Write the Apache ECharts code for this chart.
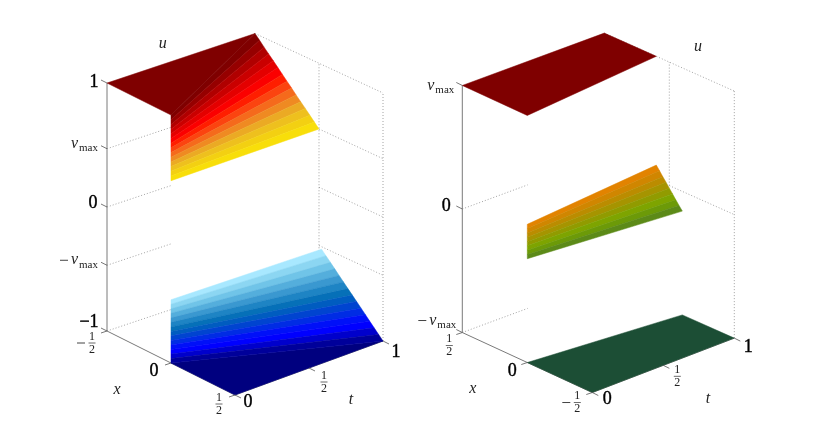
<!DOCTYPE html>
<html>
<head>
<meta charset="utf-8">
<style>html,body{margin:0;background:#fff}#chart{width:824px;height:441px}</style>
<script src="https://cdn.jsdelivr.net/npm/echarts@6/dist/echarts.min.js"></script>
</head>
<body>
<div id="chart"></div>
<script>
var vmax = 0.47;

// left plot, u between -1 and 1
var uTicksL = [1, vmax, 0, -vmax, -1];
var uLabelsL = ['1', 'vmax', '0', '\u2212vmax', '\u22121'];
var xTicksL = [-0.5, 0, 0.5];
var xLabelsL = ['\u22121/2', '0', '1/2'];
var upperLevels = [1, 0.962, 0.924, 0.886, 0.849, 0.811, 0.773, 0.735, 0.697, 0.659, 0.621, 0.584, 0.546, 0.508, 0.47];
var upperEdgeX = [-0.5, -0.464, -0.429, -0.393, -0.357, -0.321, -0.286, -0.25, -0.214, -0.179, -0.143, -0.107, -0.071, -0.036, 0];
var upperColors = ['#7f0000', '#960000', '#b00000', '#ca0000', '#e40000', '#fb0000', '#ff1e00', '#fb4410', '#f56a1c', '#ef8a22', '#ebaa24', '#eec01e', '#f3d012', '#f8de0a'];
var lowerLevels = [-0.49, -0.526, -0.563, -0.599, -0.636, -0.672, -0.709, -0.745, -0.781, -0.818, -0.854, -0.891, -0.927, -0.964, -1];
var lowerEdgeX = [0.02, 0.054, 0.089, 0.123, 0.157, 0.191, 0.226, 0.26, 0.294, 0.329, 0.363, 0.397, 0.431, 0.466, 0.5];
var lowerColors = ['#a8e8ff', '#8cd6f2', '#70c4e8', '#54aedc', '#3a98d0', '#1e84c4', '#0670b8', '#005cc0', '#0044d0', '#002ce4', '#0010f8', '#0000ff', '#0000cc', '#00009a'];

// right plot, u between -vmax and vmax
var uTicksR = [vmax, 0, -vmax];
var uLabelsR = ['vmax', '0', '\u2212vmax'];
var xTicksR = [0.5, 0, -0.5];
var xLabelsR = ['1/2', '0', '\u22121/2'];
var middleLevels = [0.056, 0.04, 0.023, 0.007, -0.01, -0.026, -0.043, -0.059, -0.075];
var middleEdgeX = [0.1, 0.075, 0.05, 0.025, 0, -0.025, -0.05, -0.075, -0.1];
var middleColors = ['#e28300', '#d08600', '#bb8c00', '#a69400', '#919b00', '#7ea400', '#6c9a08', '#5c8a18'];
var topEdgeX = [0.5, 0, 0.1, 0.5];
var bottomEdgeX = [0, -0.5, -0.5, -0.1];

var tTicks = [0, 0.5, 1];
var tLabels = ['0', '1/2', '1'];

// one ruled strip per colour, from the line x=0 at t=0 to the edge at t=1
function strips(levels, edgeX, colors) {
    var out = [];
    for (var i = 0; i < colors.length; i++) {
        out.push({
            color: colors[i],
            pts: [[0, 0, levels[i]], [1, edgeX[i], levels[i]], [1, edgeX[i + 1], levels[i + 1]], [0, 0, levels[i + 1]]]
        });
    }
    return out;
}

function flat(xs, u, color) {
    return {color: color, pts: [[0, xs[0], u], [0, xs[1], u], [1, xs[2], u], [1, xs[3], u]]};
}

var panels = [{
    // screen offsets are measured from x=0,t=0,u=0
    hRange: [-171, 241],
    vRange: [-202, 239],
    gridLeft: 0,
    proj: function (t, x, u) {
        return [128 * x + 148 * t, -(64 * x - t * (51.75 + 4.5 * x) - 124 * u)];
    },
    surfaces: [
        {color: '#7f0000', pts: [[0, -0.5, 1], [0, 0, 1], [1, -0.5, 1]]},
        {color: '#00007f', pts: [[0, 0, -1], [0, 0.5, -1], [1, 0.5, -1]]}
    ].concat(strips(upperLevels, upperEdgeX, upperColors), strips(lowerLevels, lowerEdgeX, lowerColors)),
    uTicks: uTicksL, uLabels: uLabelsL, xTicks: xTicksL, xLabels: xLabelsL,
    uMin: -1, uMax: 1, xBack: -0.5, xFront: 0.5, xMid: 0,
    sideEnd: 0.432,
    wallLevels: [vmax, 0, -vmax, -1],
    backLevels: [vmax, 0, -vmax],
    midBottom: -1,
    uOff: [[-13, -1], [-9, -1], [-14, -4], [-9, -1], [-18, -9]],
    xOff: [[-15, 12], [-17, 8], [-16, 9]],
    tOff: [[13, 7], [15, 14], [13, 11]],
    names: [{text: 'u', x: 162.7, y: 44}, {text: 'x', x: 117, y: 390}, {text: 't', x: 351, y: 400}]
}, {
    hRange: [-115.3, 296.7],
    vRange: [-202, 239],
    gridLeft: 412,
    proj: function (t, x, u) {
        return [-130 * x + 142 * t, -(-60 * x - t * (53.4 - 2 * x) - 262.8 * u)];
    },
    surfaces: [
        flat(topEdgeX, vmax, '#7f0000'),
        flat(bottomEdgeX, -vmax, '#1c4e35')
    ].concat(strips(middleLevels, middleEdgeX, middleColors)),
    uTicks: uTicksR, uLabels: uLabelsR, xTicks: xTicksR, xLabels: xLabelsR,
    uMin: -vmax, uMax: vmax, xBack: 0.5, xFront: -0.5, xMid: 0,
    sideEnd: 0.46,
    wallLevels: [0, -vmax],
    backLevels: [0],
    midBottom: 0,
    uOff: [[-8, 4], [-16, -3], [-6, -8]],
    xOff: [[-13, 13], [-15, 9], [-15, 10]],
    tOff: [[15, 7], [14, 11], [14, 9]],
    names: [{text: 'u', x: 698, y: 47}, {text: 'x', x: 472.7, y: 389}, {text: 't', x: 708, y: 399}]
}];

var numFont = '18px "Liberation Serif"';
var nameFont = 'italic 16px "Liberation Serif"';
var fracFont = '12px "Liberation Serif"';

// frame rows: [type, t0, x0, u0, t1, x1, u1], type 1 is dotted
function frameRows(p) {
    var rows = [];
    function add(kind, a, b) { rows.push([kind, a[0], a[1], a[2], b[0], b[1], b[2]]); }
    p.wallLevels.forEach(function (u) {
        add(1, [0, p.xBack, u], [p.sideEnd, p.xBack, u]);
    });
    p.backLevels.forEach(function (u) {
        add(1, [1, p.xMid, u], [1, p.xFront, u]);
    });
    add(1, [1, p.xBack, p.uMax], [1, p.xFront, p.uMax]);
    add(1, [1, p.xMid, p.midBottom], [1, p.xMid, p.uMax]);
    add(1, [1, p.xFront, p.uMin], [1, p.xFront, p.uMax]);
    add(0, [0, p.xBack, p.uMin], [0, p.xBack, p.uMax]);
    add(0, [0, p.xBack, p.uMin], [0, p.xFront, p.uMin]);
    add(0, [0, p.xFront, p.uMin], [1, p.xFront, p.uMin]);
    return rows;
}

function pixel(api, p, t, x, u) {
    return api.coord(p.proj(t, x, u));
}

function renderFrame(p) {
    return function (params, api) {
        var a = pixel(api, p, api.value(1), api.value(2), api.value(3));
        var b = pixel(api, p, api.value(4), api.value(5), api.value(6));
        var dotted = api.value(0) === 1;
        return {
            type: 'line',
            shape: {x1: a[0], y1: a[1], x2: b[0], y2: b[1]},
            style: {
                stroke: dotted ? '#8c8c8c' : '#7a7a7a',
                lineWidth: dotted ? 0.8 : 1,
                lineDash: dotted ? [1, 2] : null
            }
        };
    };
}

function renderSurface(p) {
    return function (params, api) {
        var s = p.surfaces[params.dataIndex];
        return {
            type: 'polygon',
            shape: {points: s.pts.map(function (q) { return pixel(api, p, q[0], q[1], q[2]); })},
            style: {fill: s.color, stroke: s.color, lineWidth: 0.5}
        };
    };
}

function textEl(text, x, y, font, align, heavy) {
    return {
        type: 'text',
        style: {
            x: x, y: y, text: text, font: font, fill: heavy ? '#000' : '#222',
            stroke: heavy ? '#000' : null, lineWidth: heavy ? 0.4 : 0,
            align: align || 'center', verticalAlign: 'middle'
        }
    };
}

function minusEl(x1, x2, y) {
    return {type: 'line', shape: {x1: x1, y1: y, x2: x2, y2: y}, style: {stroke: '#444', lineWidth: 1}};
}

function labelEl(text, x, y) {
    var kids = [];
    if (text.indexOf('vmax') >= 0) {
        kids.push(textEl('v', x - 20, y - 4, 'italic 16px "Liberation Serif"', 'right'));
        kids.push(textEl('max', x, y + 0.5, '11px "Liberation Serif"', 'right'));
        if (text.charAt(0) === '\u2212') {
            kids.push(minusEl(x - 38, x - 30, y - 4));
        }
    } else if (text.indexOf('1/2') >= 0) {
        kids.push(textEl('1', x, y - 6.5, fracFont));
        kids.push({type: 'line', shape: {x1: x - 3.5, y1: y, x2: x + 3.5, y2: y}, style: {stroke: '#444', lineWidth: 0.8}});
        kids.push(textEl('2', x, y + 6.5, fracFont));
        if (text.charAt(0) === '\u2212') {
            kids.push(minusEl(x - 15, x - 7, y));
        }
    } else {
        kids.push(textEl(text, x, y, numFont, 'center', true));
    }
    return {type: 'group', children: kids};
}

// tick rows: [axis, index]
function tickRows(p) {
    var rows = [];
    p.uTicks.forEach(function (v, i) { rows.push([0, i]); });
    p.xTicks.forEach(function (v, i) { rows.push([1, i]); });
    tTicks.forEach(function (v, i) { rows.push([2, i]); });
    return rows;
}

function renderTick(p) {
    return function (params, api) {
        var axis = api.value(0), i = api.value(1), at, dir, off, text;
        if (axis === 0) {
            at = pixel(api, p, 0, p.xBack, p.uTicks[i]);
            dir = [-6, -3]; off = p.uOff[i]; text = p.uLabels[i];
        } else if (axis === 1) {
            at = pixel(api, p, 0, p.xTicks[i], p.uMin);
            dir = [-6, 2]; off = p.xOff[i]; text = p.xLabels[i];
        } else {
            at = pixel(api, p, tTicks[i], p.xFront, p.uMin);
            dir = [6, 3]; off = p.tOff[i]; text = tLabels[i];
        }
        return {
            type: 'group',
            children: [
                {type: 'line', shape: {x1: at[0], y1: at[1], x2: at[0] + dir[0], y2: at[1] + dir[1]}, style: {stroke: '#555', lineWidth: 0.8}},
                labelEl(text, at[0] + off[0], at[1] + off[1])
            ]
        };
    };
}

var grids = [], xAxes = [], yAxes = [], series = [], names = [];
panels.forEach(function (p, n) {
    grids.push({left: p.gridLeft, top: 0, width: 412, height: 441});
    xAxes.push({type: 'value', gridIndex: n, min: p.hRange[0], max: p.hRange[1], show: false});
    yAxes.push({type: 'value', gridIndex: n, min: p.vRange[0], max: p.vRange[1], show: false});
    var common = {type: 'custom', coordinateSystem: 'cartesian2d', xAxisIndex: n, yAxisIndex: n, silent: true, animation: false};
    series.push(Object.assign({}, common, {renderItem: renderFrame(p), data: frameRows(p)}));
    series.push(Object.assign({}, common, {
        renderItem: renderSurface(p),
        data: p.surfaces.map(function (s, i) { return [i, 0]; })
    }));
    series.push(Object.assign({}, common, {renderItem: renderTick(p), data: tickRows(p)}));
    p.names.forEach(function (a) {
        names.push({
            type: 'text', x: a.x, y: a.y,
            style: {text: a.text, font: nameFont, fill: '#222', align: 'center', verticalAlign: 'middle'}
        });
    });
});

var chart = echarts.init(document.getElementById('chart'), null, {renderer: 'canvas'});
chart.setOption({
    backgroundColor: '#fff',
    animation: false,
    grid: grids,
    xAxis: xAxes,
    yAxis: yAxes,
    graphic: names,
    series: series
});
</script>
</body>
</html>
